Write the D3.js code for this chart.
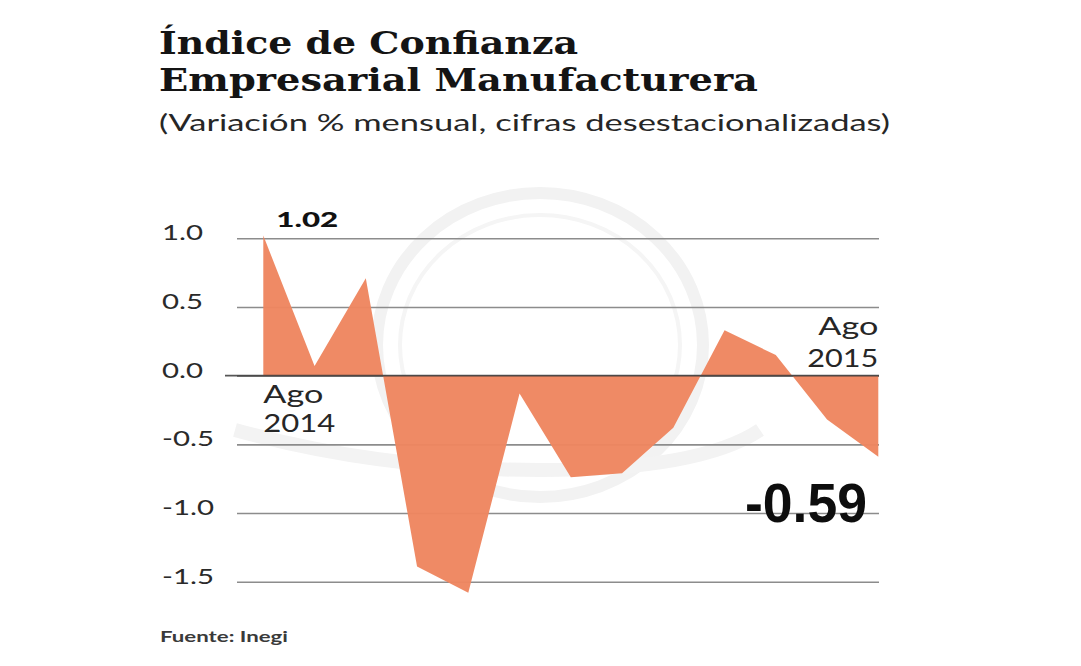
<!DOCTYPE html>
<html>
<head>
<meta charset="utf-8">
<script src="https://cdn.jsdelivr.net/npm/d3@7"></script>
<style>
  html, body { margin: 0; padding: 0; background: #ffffff; }
  svg { display: block; }
</style>
</head>
<body>
<script>
// ---- data ----
const months = ["Ago 2014", "Sep 2014", "Oct 2014", "Nov 2014", "Dic 2014", "Ene 2015", "Feb 2015",
                "Mar 2015", "Abr 2015", "May 2015", "Jun 2015", "Jul 2015", "Ago 2015"];
const values = [1.02, 0.07, 0.71, -1.39, -1.58, -0.13, -0.74, -0.71, -0.38, 0.33, 0.15, -0.32, -0.59];
const yTicks = [1.0, 0.5, 0.0, -0.5, -1.0, -1.5];
const yTickLabels = ["1.0", "0.5", "0.0", "-0.5", "-1.0", "-1.5"];
const titleLines = ["Índice de Confianza", "Empresarial Manufacturera"];
const subtitle = "(Variación % mensual, cifras desestacionalizadas)";
const source = "Fuente: Inegi";

// ---- layout ----
const W = 1081, H = 666;
const svg = d3.select("body").append("svg").attr("width", W).attr("height", H);

const x = d3.scalePoint().domain(months).range([263.3, 878.3]);
const y = d3.scaleLinear().domain([-1.5, 1.0]).range([581.7, 238.3]);
const gridLeft = 237, gridRight = 879;

function fitWidth(sel, w) {
  sel.each(function () {
    this.setAttribute("textLength", w);
    this.setAttribute("lengthAdjust", "spacingAndGlyphs");
  });
  return sel;
}
function stretch(sel, f) {
  sel.each(function () {
    const n = this.getComputedTextLength();
    this.setAttribute("textLength", n * f);
    this.setAttribute("lengthAdjust", "spacingAndGlyphs");
  });
  return sel;
}

// watermark (faint logo ring)
const wm = svg.append("g").attr("fill", "none");
wm.append("ellipse").attr("cx", 540).attr("cy", 345).attr("rx", 163).attr("ry", 152)
  .attr("stroke", "#f2f2f2").attr("stroke-width", 12);
wm.append("ellipse").attr("cx", 540).attr("cy", 345).attr("rx", 140).attr("ry", 130)
  .attr("stroke", "#f5f5f5").attr("stroke-width", 4);
wm.append("path").attr("d", "M235,430 Q380,470 540,470 Q700,470 760,430")
  .attr("stroke", "#f3f3f3").attr("stroke-width", 14);

// titles
const tg = svg.append("g");
tg.selectAll("text.title").data(titleLines).join("text")
  .attr("class", "title")
  .attr("x", 159).attr("y", (d, i) => i === 0 ? 54 : 91)
  .attr("font-family", "'DejaVu Serif', serif").attr("font-weight", "bold")
  .attr("font-size", 31).attr("fill", "#141414")
  .text(d => d)
  .each(function (d, i) { fitWidth(d3.select(this), i === 0 ? 419 : 599); });

fitWidth(tg.append("text")
  .attr("x", 159).attr("y", 131)
  .attr("font-family", "Lato, sans-serif").attr("font-size", 24).attr("fill", "#262626")
  .text(subtitle), 731);

// axis + gridlines
const axis = d3.axisLeft(y)
  .tickValues(yTicks)
  .tickSize(-(gridRight - gridLeft))
  .tickFormat((d, i) => yTickLabels[i]);

const ag = svg.append("g").attr("transform", `translate(${gridLeft},0)`).call(axis);
ag.select(".domain").remove();
ag.selectAll(".tick line")
  .attr("stroke", "#8c8c8c").attr("stroke-width", 1.6);
ag.selectAll(".tick text")
  .attr("x", 162 - gridLeft).attr("dy", 0).attr("y", 1.5)
  .attr("text-anchor", "start")
  .attr("font-family", "Lato, sans-serif").attr("font-size", 21).attr("fill", "#2a2a2a")
  .call(stretch, 1.4);

// area
const area = d3.area()
  .x((d, i) => x(months[i]))
  .y0(y(0))
  .y1(d => y(d))
  .curve(d3.curveLinear);

svg.append("path")
  .datum(values)
  .attr("d", area)
  .attr("fill", "#ee8660")
  .attr("fill-opacity", 0.97);

// zero line on top
svg.append("line")
  .attr("x1", 225).attr("x2", gridRight)
  .attr("y1", y(0)).attr("y2", y(0))
  .attr("stroke", "#3a3a3a").attr("stroke-width", 1.8).attr("stroke-opacity", 0.85);

// annotations
const first = values[0], last = values[values.length - 1];
fitWidth(svg.append("text")
  .attr("x", x(months[0]) + 13).attr("y", 227)
  .attr("font-family", "Lato, sans-serif").attr("font-weight", "900")
  .attr("font-size", 21).attr("fill", "#111")
  .text(first.toFixed(2)), 62);

const a1 = svg.append("g").attr("font-family", "Lato, sans-serif").attr("font-size", 25).attr("fill", "#262626");
fitWidth(a1.append("text").attr("x", x(months[0])).attr("y", 403).text(months[0].split(" ")[0]), 60);
fitWidth(a1.append("text").attr("x", x(months[0])).attr("y", 432).text(months[0].split(" ")[1]), 72);

const lastM = months[months.length - 1];
fitWidth(a1.append("text").attr("x", x(lastM)).attr("y", 335).attr("text-anchor", "end")
  .text(lastM.split(" ")[0]), 60);
fitWidth(a1.append("text").attr("x", x(lastM)).attr("y", 367).attr("text-anchor", "end")
  .text(lastM.split(" ")[1]), 71);

fitWidth(svg.append("text")
  .attr("x", 745).attr("y", 522)
  .attr("font-family", "'Liberation Sans', Arial, sans-serif").attr("font-weight", "bold")
  .attr("font-size", 56).attr("fill", "#0d0d0d")
  .text(last.toFixed(2)), 122);

// source
fitWidth(svg.append("text")
  .attr("x", 160).attr("y", 642)
  .attr("font-family", "Lato, sans-serif").attr("font-weight", "bold")
  .attr("font-size", 16).attr("fill", "#3a3a3a")
  .text(source), 128);
</script>
</body>
</html>
